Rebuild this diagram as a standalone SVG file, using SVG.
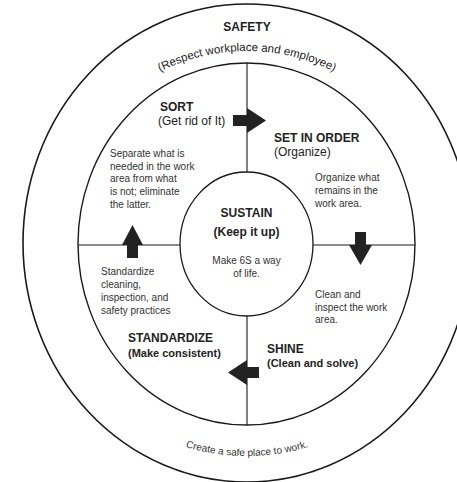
<svg xmlns="http://www.w3.org/2000/svg" xmlns:xlink="http://www.w3.org/1999/xlink" width="457" height="482" viewBox="0 0 457 482">
<style>
text{font-family:"Liberation Sans",Arial,sans-serif;fill:#222}
.t{font-size:12px;font-weight:bold}
.s{font-size:11px;font-weight:bold}
.r{font-size:12px}
.b{font-size:10px;fill:#333}
.ring{fill:none;stroke:#1a1a1a}
.arr{fill:#222}
</style>
<defs>
<path id="topArc" d="M54,244 A193,193 0 0 1 440,244"/>
<path id="botArc" d="M35,244 A212,212 0 0 0 459,244"/>
</defs>
<rect width="457" height="482" fill="#fff"/>
<g id="safety">
<ellipse class="ring" cx="247" cy="243" rx="224" ry="239" stroke-width="1.6"/>
<text class="t" x="247" y="31" text-anchor="middle" font-size="11.5">SAFETY</text>
<text style="font-size:11.5px"><textPath xlink:href="#topArc" href="#topArc" startOffset="50%" text-anchor="middle">(Respect workplace and employee)</textPath></text>
<text class="b"><textPath xlink:href="#botArc" href="#botArc" startOffset="50%" text-anchor="middle">Create a safe place to work.</textPath></text>
</g>
<g id="connectors">
<ellipse class="ring" cx="246.5" cy="244" rx="168.5" ry="181" stroke-width="1.4"/>
<line x1="247" y1="63" x2="247" y2="172" stroke="#1a1a1a" stroke-width="1.1"/>
<line x1="247" y1="316" x2="247" y2="425" stroke="#1a1a1a" stroke-width="1.1"/>
<line x1="78" y1="245" x2="180" y2="245" stroke="#1a1a1a" stroke-width="1.1"/>
<line x1="313" y1="245" x2="415" y2="245" stroke="#1a1a1a" stroke-width="1.1"/>
<g id="arrow-right"><rect class="arr" x="233" y="115" width="14" height="11"/><polygon class="arr" points="247,108 266,120.5 247,133"/></g>
<g id="arrow-down"><rect class="arr" x="355" y="232" width="11" height="13"/><polygon class="arr" points="349,245 372,245 360.5,265"/></g>
<g id="arrow-left"><rect class="arr" x="247" y="367" width="12" height="11"/><polygon class="arr" points="247,360 247,385 228,372.5"/></g>
<g id="arrow-up"><rect class="arr" x="127" y="245" width="11" height="13"/><polygon class="arr" points="122,245 143,245 132.5,225"/></g>
</g>
<g id="sort">
<text class="t" x="160" y="111">SORT</text>
<text class="r" x="158" y="125">(Get rid of It)</text>
<text class="b" x="110" y="157">Separate what is</text>
<text class="b" x="110" y="169.5">needed in the work</text>
<text class="b" x="110" y="182">area from what</text>
<text class="b" x="110" y="195">is not; eliminate</text>
<text class="b" x="110" y="208">the latter.</text>
</g>
<g id="set-in-order">
<text class="t" x="274" y="142">SET IN ORDER</text>
<text class="r" x="274" y="156">(Organize)</text>
<text class="b" x="315" y="181">Organize what</text>
<text class="b" x="315" y="194">remains in the</text>
<text class="b" x="315" y="207">work area.</text>
</g>
<g id="shine">
<text class="b" x="315" y="298">Clean and</text>
<text class="b" x="315" y="311">inspect the work</text>
<text class="b" x="315" y="323">area.</text>
<text class="t" x="267" y="353">SHINE</text>
<text class="s" x="267" y="367">(Clean and solve)</text>
</g>
<g id="standardize">
<text class="b" x="101" y="275">Standardize</text>
<text class="b" x="101" y="288">cleaning,</text>
<text class="b" x="101" y="301">inspection, and</text>
<text class="b" x="101" y="314">safety practices</text>
<text class="t" x="128" y="342">STANDARDIZE</text>
<text class="s" x="128" y="357">(Make consistent)</text>
</g>
<g id="sustain">
<ellipse class="ring" cx="246.5" cy="244" rx="66.5" ry="72" stroke-width="1.3"/>
<text class="t" x="246.5" y="217" text-anchor="middle" font-size="13">SUSTAIN</text>
<text class="t" x="246.5" y="236" text-anchor="middle">(Keep it up)</text>
<text class="b" x="246.5" y="264" text-anchor="middle">Make 6S a way</text>
<text class="b" x="246.5" y="277" text-anchor="middle">of life.</text>
</g>
</svg>
